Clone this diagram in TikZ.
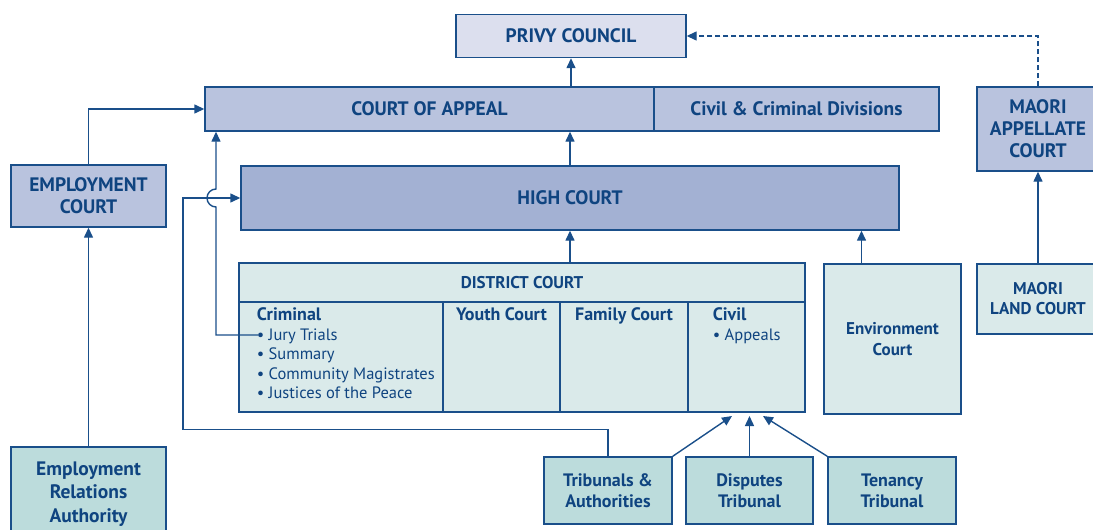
\documentclass[tikz,border=0pt]{standalone}
\usepackage{fontspec}
\setmainfont{PT Sans}
\usetikzlibrary{arrows.meta}
\definecolor{courtline}{HTML}{1A4F8A}
\definecolor{courttext}{HTML}{0F4480}
\definecolor{privyfill}{HTML}{DCDFEE}
\definecolor{appealfill}{HTML}{B9C3DE}
\definecolor{highfill}{HTML}{A3B1D3}
\definecolor{lowerfill}{HTML}{DAEAEA}
\definecolor{tribfill}{HTML}{BCDCDC}
\begin{document}
\begin{tikzpicture}[x=1pt,y=-1pt,
    box/.style={draw=courtline, line width=1.4pt, text=courttext, align=center, inner sep=0pt,
      font=\bfseries\fontsize{19.5}{22}\selectfont},
    small/.style={font=\bfseries\fontsize{17}{21}\selectfont},
    link/.style={draw=courtline, line width=1.4pt, -{Triangle[length=10pt,width=9pt]}}]
    \useasboundingbox (0,0) rectangle (1093,530);
    % Upper courts
    \node[box, fill=privyfill, minimum width=230, minimum height=43] (privy) at (571,36) {PRIVY COUNCIL};
    \node[box, fill=appealfill, minimum width=449, minimum height=44] (appeal) at (429.5,109) {COURT OF APPEAL};
    \node[box, fill=appealfill, minimum width=285, minimum height=44] (divisions) at (796.5,109) {Civil \& Criminal Divisions};
    \node[box, fill=highfill, minimum width=658, minimum height=64] (high) at (570,198) {HIGH COURT};
    \node[box, fill=appealfill, minimum width=155, minimum height=62] (employ) at (88.5,196) {EMPLOYMENT\\COURT};
    \node[box, fill=appealfill, minimum width=122, minimum height=84] (maoriapp) at (1038,129) {MAORI\\APPELLATE\\COURT};
    \node[box, small, fill=lowerfill, minimum width=122, minimum height=70, font=\bfseries\fontsize{17}{20}\selectfont] (maoriland) at (1038,299) {MAORI\\LAND COURT};
    % District court and its divisions
    \node[box, small, fill=lowerfill, minimum width=566, minimum height=39] (district) at (522,282.5) {DISTRICT COURT};
    \node[box, fill=lowerfill, minimum width=204, minimum height=110] (criminal) at (341,357) {};
    \node[box, fill=lowerfill, minimum width=117, minimum height=110] (youth) at (501.5,357) {};
    \node[box, fill=lowerfill, minimum width=128, minimum height=110] (family) at (624,357) {};
    \node[box, fill=lowerfill, minimum width=117, minimum height=110] (civil) at (746.5,357) {};
    \node[anchor=north west, align=left, text=courttext, font=\fontsize{16.5}{19.5}\selectfont] (crimtext) at ([shift={(15,3)}]criminal.north west)
      {\textbf{\fontsize{18}{19.5}\selectfont Criminal}\\• Jury Trials\\• Summary\\• Community Magistrates\\• Justices of the Peace};
    \node[anchor=north, text=courttext, font=\bfseries\fontsize{18}{19.5}\selectfont] (youthtext) at ([shift={(0,3)}]youth.north) {Youth Court};
    \node[anchor=north, text=courttext, font=\bfseries\fontsize{18}{19.5}\selectfont] (familytext) at ([shift={(0,3)}]family.north) {Family Court};
    \node[anchor=north west, align=left, text=courttext, font=\fontsize{16.5}{19.5}\selectfont] (civiltext) at ([shift={(22,3)}]civil.north west)
      {\textbf{\fontsize{18}{19.5}\selectfont Civil}\\• Appeals};
    \node[box, small, fill=lowerfill, minimum width=137, minimum height=150] (env) at (892.5,339) {Environment\\Court};
    % Tribunals
    \node[box, fill=tribfill, minimum width=155, minimum height=94, font=\bfseries\fontsize{19.5}{23.5}\selectfont] (era) at (88.5,494) {Employment\\Relations\\Authority};
    \node[box, fill=tribfill, minimum width=128, minimum height=67, font=\bfseries\fontsize{18}{21}\selectfont] (tribunals) at (608,490.5) {Tribunals \&\\Authorities};
    \node[box, fill=tribfill, minimum width=127, minimum height=67, font=\bfseries\fontsize{18}{21}\selectfont] (disputes) at (749.5,490.5) {Disputes\\Tribunal};
    \node[box, fill=tribfill, minimum width=128, minimum height=67, font=\bfseries\fontsize{18}{21}\selectfont] (tenancy) at (892,490.5) {Tenancy\\Tribunal};
    % Connectors
    \coordinate (jury) at (258,335);
    \coordinate (hopbelow) at (216,207);
    \coordinate (trib1) at (732,416);
    \coordinate (trib2) at (749.5,416);
    \coordinate (trib3) at (763,416);
    \draw[link] (privy.south |- appeal.north) -- (privy.south);
    \draw[link] (high.north) -- (high.north |- appeal.south);
    \draw[link] (high.south |- district.north) -- (high.south);
    \draw[link] ([xshift=-31]env.north) -- ([xshift=-31]env.north |- high.south);
    \draw[link] (employ.north) -- (employ.north |- appeal.west) -- (appeal.west);
    \draw[link] (era.north) -- (employ.south);
    \draw[link] (maoriland.north) -- (maoriapp.south);
    \draw[link, dash pattern=on 5pt off 3pt] (maoriapp.north) -- (maoriapp.north |- privy.east) -- (privy.east);
    \draw[link] (jury) -- (jury -| hopbelow) -- (hopbelow) arc[start angle=90, end angle=270, radius=9]
      -- (hopbelow |- appeal.south);
    \draw[link] (tribunals.north) -- ++(0,-27) -| (183,198) -- (high.west);
    \draw[link] (tribunals.north east) -- (trib1);
    \draw[link] (disputes.north) -- (trib2);
    \draw[link] (tenancy.north west) -- (trib3);
\end{tikzpicture}
\end{document}
